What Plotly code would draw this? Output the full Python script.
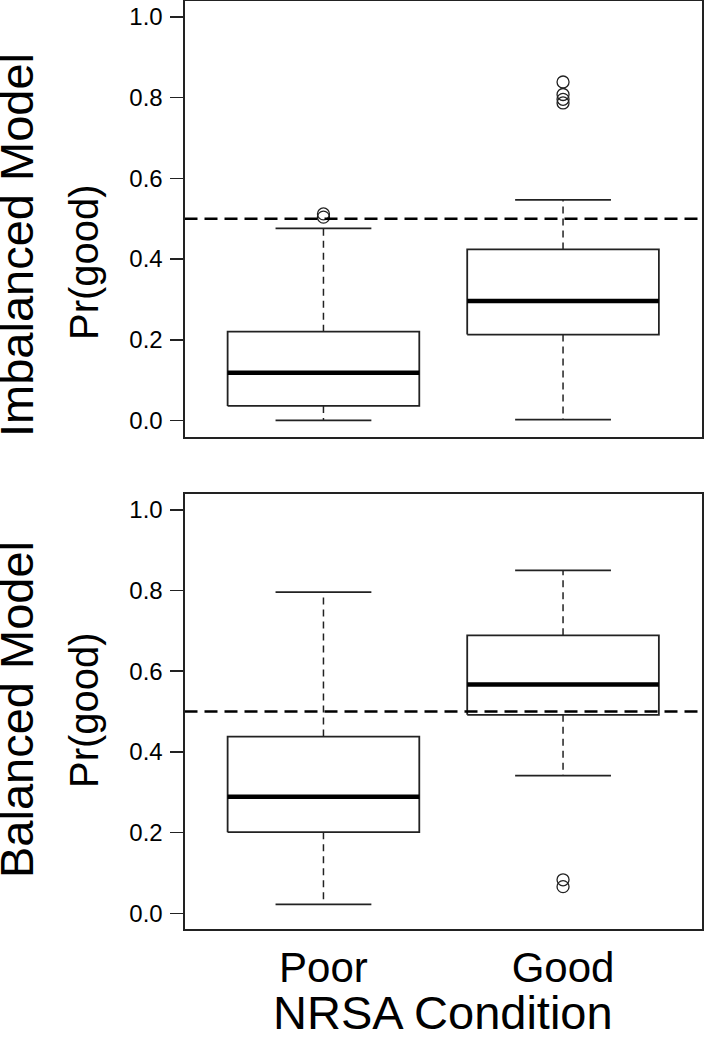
import plotly.graph_objects as go

# ---------------- data ----------------
categories = ["Poor", "Good"]
cat_pos = [1, 2]
panel_titles = ["Imbalanced Model", "Balanced Model"]
y_ticks = [0.0, 0.2, 0.4, 0.6, 0.8, 1.0]
y_tick_labels = ["0.0", "0.2", "0.4", "0.6", "0.8", "1.0"]
threshold = 0.5

imb_lower = [0.000, 0.002]
imb_q1 = [0.036, 0.213]
imb_median = [0.118, 0.296]
imb_q3 = [0.220, 0.424]
imb_upper = [0.476, 0.547]
imb_out_poor = [0.504, 0.512]
imb_out_good = [0.787, 0.796, 0.808, 0.839]

bal_lower = [0.022, 0.341]
bal_q1 = [0.201, 0.492]
bal_median = [0.289, 0.567]
bal_q3 = [0.438, 0.689]
bal_upper = [0.796, 0.850]
bal_out_poor = []
bal_out_good = [0.066, 0.083]

# ---------------- style ----------------
FONT = "Liberation Sans, Arial, sans-serif"
LINE = "#222222"
BOX_HALF = 0.4
CAP_HALF = 0.2
W, H = 708, 1049

fig = go.Figure()


def add_panel(xa, ya, lower, q1, med, q3, upper, outliers):
    for i, xc in enumerate(cat_pos):
        # whiskers (dashed)
        fig.add_trace(go.Scatter(
            x=[xc, xc, None, xc, xc],
            y=[q3[i], upper[i], None, q1[i], lower[i]],
            mode="lines", line=dict(color=LINE, width=1.5, dash="7px,5px"),
            xaxis=xa, yaxis=ya, hoverinfo="skip", showlegend=False))
        # caps
        fig.add_trace(go.Scatter(
            x=[xc - CAP_HALF, xc + CAP_HALF, None, xc - CAP_HALF, xc + CAP_HALF],
            y=[upper[i], upper[i], None, lower[i], lower[i]],
            mode="lines", line=dict(color=LINE, width=1.8),
            xaxis=xa, yaxis=ya, hoverinfo="skip", showlegend=False))
        # box
        fig.add_trace(go.Scatter(
            x=[xc - BOX_HALF, xc + BOX_HALF, xc + BOX_HALF, xc - BOX_HALF, xc - BOX_HALF],
            y=[q1[i], q1[i], q3[i], q3[i], q1[i]],
            mode="lines", fill="toself", fillcolor="white",
            line=dict(color=LINE, width=1.8),
            xaxis=xa, yaxis=ya, hoverinfo="skip", showlegend=False))
        # median
        fig.add_trace(go.Scatter(
            x=[xc - BOX_HALF, xc + BOX_HALF], y=[med[i], med[i]],
            mode="lines", line=dict(color="black", width=4.5),
            xaxis=xa, yaxis=ya, hoverinfo="skip", showlegend=False))
        # outliers
        if outliers[i]:
            fig.add_trace(go.Scatter(
                x=[xc] * len(outliers[i]), y=outliers[i], mode="markers",
                marker=dict(symbol="circle-open", size=12, color=LINE,
                            line=dict(width=1.3, color=LINE)),
                xaxis=xa, yaxis=ya, hoverinfo="skip", showlegend=False))
    # threshold line
    fig.add_trace(go.Scatter(
        x=[0.42, 2.58], y=[threshold, threshold], mode="lines",
        line=dict(color="black", width=2.5, dash="13px,7px"),
        xaxis=xa, yaxis=ya, hoverinfo="skip", showlegend=False))


add_panel("x", "y", imb_lower, imb_q1, imb_median, imb_q3, imb_upper,
          [imb_out_poor, imb_out_good])
add_panel("x2", "y2", bal_lower, bal_q1, bal_median, bal_q3, bal_upper,
          [bal_out_poor, bal_out_good])

x_dom = [184.5 / W, 702 / W]
top_dom = [1 - 436.6 / H, 1 - 0.9 / H]
bot_dom = [1 - 929.4 / H, 1 - 493.7 / H]

xcommon = dict(range=[0.42, 2.58], showgrid=False, zeroline=False,
               showline=True, mirror=True, linecolor=LINE, linewidth=2,
               domain=x_dom, tickvals=cat_pos, ticktext=categories,
               ticks="", tickfont=dict(family=FONT, size=42, color="black"))
ycommon = dict(range=[-0.04, 1.04], showgrid=False, zeroline=False,
               showline=True, mirror=True, linecolor=LINE, linewidth=2,
               tickvals=y_ticks, ticktext=y_tick_labels, ticks="outside",
               ticklen=13, tickwidth=1.5, tickcolor=LINE, ticklabelstandoff=2,
               tickfont=dict(family=FONT, size=24, color="black"))

fig.update_layout(
    width=W, height=H,
    margin=dict(l=0, r=0, t=0, b=0, autoexpand=False),
    paper_bgcolor="white", plot_bgcolor="white",
    showlegend=False,
    xaxis=dict(**xcommon, anchor="y", showticklabels=False),
    yaxis=dict(**ycommon, domain=top_dom, anchor="x"),
    xaxis2=dict(**xcommon, anchor="y2", showticklabels=True, ticklabelstandoff=0),
    yaxis2=dict(**ycommon, domain=bot_dom, anchor="x2"),
)

ann = []
# outer panel titles
for title, yc in zip(panel_titles, [245, 710]):
    ann.append(dict(text=title, x=16 / W, y=1 - yc / H, xref="paper", yref="paper",
                    textangle=-90, showarrow=False, xanchor="center", yanchor="middle",
                    font=dict(family=FONT, size=47, color="black")))
# y axis titles
for yc in [262, 710]:
    ann.append(dict(text="Pr(good)", x=84 / W, y=1 - yc / H, xref="paper", yref="paper",
                    textangle=-90, showarrow=False, xanchor="center", yanchor="middle",
                    font=dict(family=FONT, size=40, color="black")))
# x axis title
ann.append(dict(text="NRSA Condition", x=(184.5 + 702) / 2 / W, y=1 - 1012 / H,
                xref="paper", yref="paper", showarrow=False,
                xanchor="center", yanchor="middle",
                font=dict(family=FONT, size=47, color="black")))
fig.update_layout(annotations=ann)

fig.write_html(
    "out.html",
    config={"displayModeBar": False, "staticPlot": True},
    post_script="document.body.style.margin='0px';document.body.style.padding='0px';"
                "document.body.style.overflow='hidden';",
)
